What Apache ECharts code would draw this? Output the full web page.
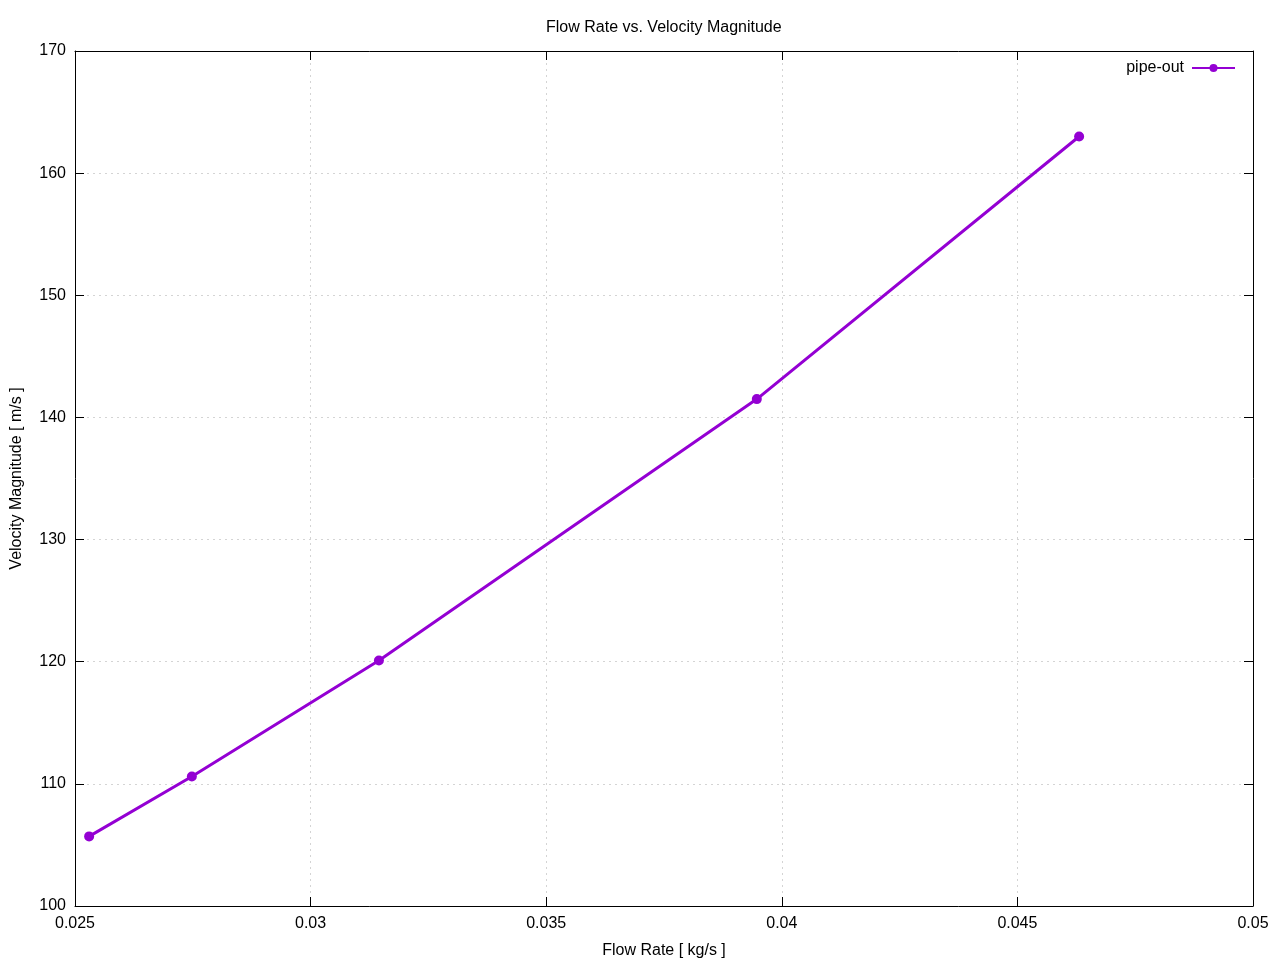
<!DOCTYPE html>
<html>
<head>
<meta charset="utf-8">
<script src="https://cdn.jsdelivr.net/npm/echarts@6/dist/echarts.min.js"></script>
<style>
  html, body { margin: 0; padding: 0; background: #fff; }
  #chart { width: 1280px; height: 960px; }
</style>
</head>
<body>
<div id="chart"></div>
<script>
// pipe-out samples
const flowRate = [0.02530, 0.02748, 0.03145, 0.03947, 0.04631];
const velocity = [105.7, 110.6, 120.1, 141.5, 163.0];

const xTicks = { min: 0.025, max: 0.05, interval: 0.005 };
const yTicks = { min: 100, max: 170, interval: 10 };

const FONT = "Liberation Sans, Arial, sans-serif";
const LINE_COLOR = "#9400d3";

const chart = echarts.init(document.getElementById("chart"));

const tickStyle = { show: true, inside: true, length: 9, lineStyle: { color: "#000", width: 1 } };
const gridLines = { show: true, lineStyle: { color: "#d4d4d4", type: [2, 4], width: 1 } };

const fmt = (v) => String(parseFloat(v.toFixed(4)));

chart.setOption({
  animation: false,
  backgroundColor: "#fff",
  textStyle: { fontFamily: FONT },
  title: {
    text: "Flow Rate vs. Velocity Magnitude",
    left: 541,
    top: 15,
    textStyle: { fontSize: 16, fontWeight: "normal", color: "#000", fontFamily: FONT },
  },
  legend: {
    right: 39,
    top: 55,
    align: "right",
    itemWidth: 43,
    itemHeight: 10,
    itemGap: 8,
    textStyle: { fontSize: 16, color: "#000", fontFamily: FONT, padding: [0, 3, 0, 0] },
    data: ["pipe-out"],
  },
  grid: { left: 75, right: 27, top: 51, bottom: 54, containLabel: false, outerBoundsMode: "none" },
  xAxis: [
    {
      type: "value",
      position: "bottom",
      min: xTicks.min,
      max: xTicks.max,
      interval: xTicks.interval,
      name: "Flow Rate [ kg/s ]",
      nameLocation: "middle",
      nameGap: 37,
      nameTextStyle: { fontSize: 16, color: "#000", fontFamily: FONT },
      axisLine: { show: true, lineStyle: { color: "#000", width: 1 } },
      axisTick: tickStyle,
      axisLabel: { fontSize: 16, color: "#000", margin: 10, formatter: fmt },
      splitLine: gridLines,
    },
    {
      type: "value",
      position: "top",
      min: xTicks.min,
      max: xTicks.max,
      interval: xTicks.interval,
      axisLine: { show: true, lineStyle: { color: "#000", width: 1 } },
      axisTick: tickStyle,
      axisLabel: { show: false },
      splitLine: { show: false },
    },
  ],
  yAxis: [
    {
      type: "value",
      position: "left",
      min: yTicks.min,
      max: yTicks.max,
      interval: yTicks.interval,
      name: "Velocity Magnitude [ m/s ]",
      nameLocation: "middle",
      nameGap: 50,
      nameRotate: 90,
      nameTextStyle: { fontSize: 16, color: "#000", fontFamily: FONT },
      axisLine: { show: true, lineStyle: { color: "#000", width: 1 } },
      axisTick: tickStyle,
      axisLabel: { fontSize: 16, color: "#000", margin: 9 },
      splitLine: gridLines,
    },
    {
      type: "value",
      position: "right",
      min: yTicks.min,
      max: yTicks.max,
      interval: yTicks.interval,
      axisLine: { show: true, lineStyle: { color: "#000", width: 1 } },
      axisTick: tickStyle,
      axisLabel: { show: false },
      splitLine: { show: false },
    },
  ],
  series: [
    {
      name: "pipe-out",
      type: "line",
      xAxisIndex: 0,
      yAxisIndex: 0,
      data: flowRate.map((x, i) => [x, velocity[i]]),
      symbol: "circle",
      symbolSize: 10,
      showSymbol: true,
      lineStyle: { color: LINE_COLOR, width: 3 },
      itemStyle: { color: LINE_COLOR },
    },
  ],
});
</script>
</body>
</html>
